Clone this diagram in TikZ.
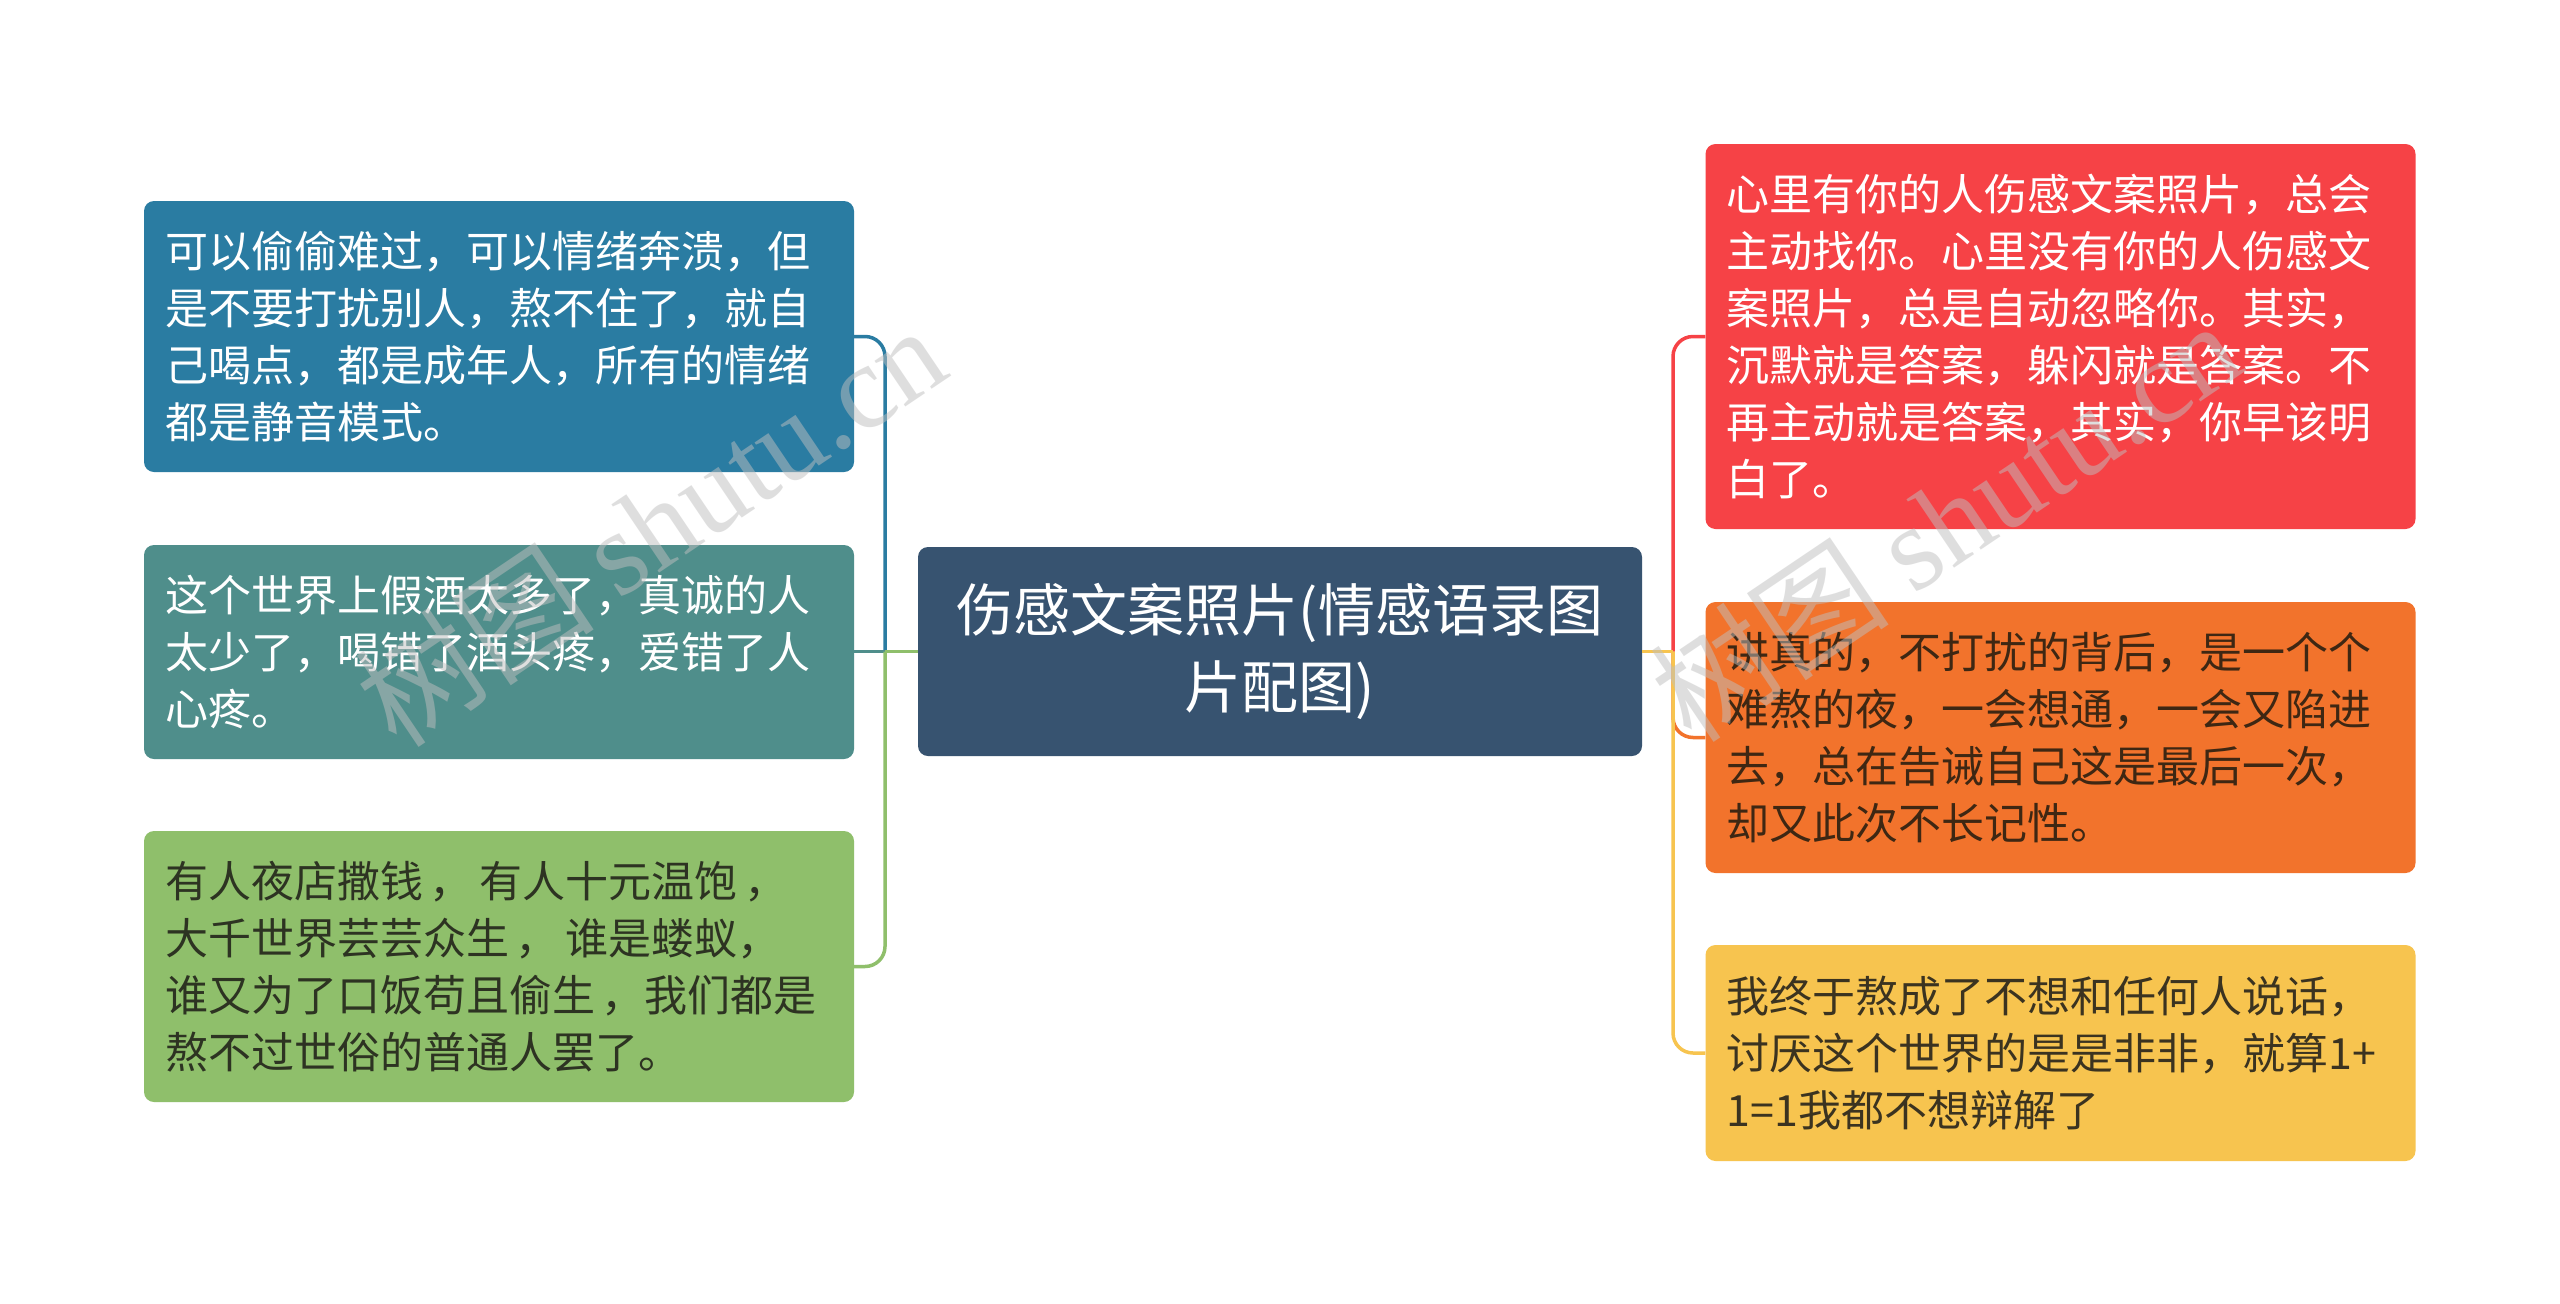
\documentclass[tikz,border=0pt]{standalone}
\usepackage{fontspec}
\setmainfont{Noto Sans CJK SC}
\newfontfamily\wmserif{Liberation Serif}
\definecolor{cLa}{HTML}{2A7CA2}
\definecolor{cLb}{HTML}{4F8E8B}
\definecolor{cLc}{HTML}{8FBF6B}
\definecolor{cC}{HTML}{375370}
\definecolor{cRa}{HTML}{F64246}
\definecolor{cRb}{HTML}{F2732C}
\definecolor{cRc}{HTML}{F7C44F}
\definecolor{tLc}{HTML}{2D3322}
\definecolor{tRb}{HTML}{3E2713}
\definecolor{tRc}{HTML}{3B3320}
\newcommand{\gp}{\hspace{7pt}}
\tikzset{
  leaf/.style={rectangle, rounded corners=10pt, text width=668pt, inner xsep=21pt, inner ysep=0pt,
    align=left, font=\fontsize{43}{57}\selectfont, minimum width=710pt},
  root/.style={rectangle, rounded corners=10pt, inner sep=0pt, align=center,
    font=\fontsize{57}{77}\selectfont, minimum width=724pt, minimum height=209pt, fill=cC, text=white},
  link/.style={line width=3.5pt},
  wm/.style={text=black!25, opacity=0.5, rotate=34, font=\fontsize{120}{120}\selectfont}
}
\begin{document}
\begin{tikzpicture}[x=1pt,y=-1pt]
\useasboundingbox[fill=white] (0,0) rectangle (2560,1304);
% root
\node[root] (C) at (1280,651.5) {伤感文案照片(情感语录图\\片配图)};
% left leaves
\node[leaf, fill=cLa, text=white, minimum height=271pt] (L1) at (499,336.5)
  {可以偷偷难过，可以情绪奔溃，但\\是不要打扰别人，熬不住了，就自\\己喝点，都是成年人，所有的情绪\\都是静音模式。};
\node[leaf, fill=cLb, text=white, minimum height=214pt] (L2) at (499,652)
  {这个世界上假酒太多了，真诚的人\\太少了，喝错了酒头疼，爱错了人\\心疼。};
\node[leaf, fill=cLc, text=tLc, minimum height=271pt] (L3) at (499,966.5)
  {有人夜店撒钱\gp{}，\gp{}有人十元温饱\gp{}，\\大千世界芸芸众生\gp{}，\gp{}谁是蝼蚁，\\谁又为了口饭苟且偷生\gp{}，我们都是\\熬不过世俗的普通人罢了。};
% right leaves
\node[leaf, fill=cRa, text=white, minimum height=385pt] (R1) at (2060.5,336.5)
  {心里有你的人伤感文案照片，总会\\主动找你。心里没有你的人伤感文\\案照片，总是自动忽略你。其实，\\沉默就是答案，躲闪就是答案。不\\再主动就是答案，其实，你早该明\\白了。};
\node[leaf, fill=cRb, text=tRb, minimum height=271pt] (R2) at (2060.5,737.5)
  {讲真的，不打扰的背后，是一个个\\难熬的夜，一会想通，一会又陷进\\去，总在告诫自己这是最后一次，\\却又此次不长记性。};
\node[leaf, fill=cRc, text=tRc, minimum height=216pt] (R3) at (2060.5,1053)
  {我终于熬成了不想和任何人说话，\\讨厌这个世界的是是非非，就算1+\\1=1我都不想辩解了};
% junctions
\coordinate (jl) at (885,651.5);
\coordinate (jr) at (1673,651.5);
% left connectors
\draw[link, cLa, rounded corners=20pt] (jl) |- (L1.east);
\draw[link, cLb] (jl) -- (L2.east |- jl);
\draw[link, cLc] (C.west) -- (jl);
\draw[link, cLc, rounded corners=20pt] (jl) |- (L3.east);
% right connectors
\draw[link, cRa, rounded corners=20pt] (jr) |- (R1.west);
\draw[link, cRb, rounded corners=20pt] (jr) |- (R2.west);
\draw[link, cRc] (C.east) -- (jr);
\draw[link, cRc, rounded corners=20pt] (jr) |- (R3.west);
% watermarks
\node[wm] (wm1) at (650,525) {树图 {\wmserif shutu.cn}};
\node[wm] (wm2) at (1945,520) {树图 {\wmserif shutu.cn}};
\end{tikzpicture}
\end{document}
